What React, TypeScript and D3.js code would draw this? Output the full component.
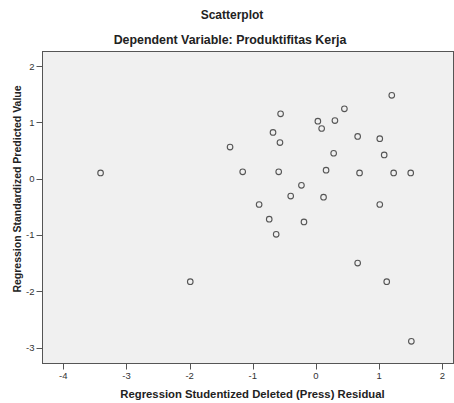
import React from "react";
import * as d3 from "d3";

const xValues = [-3.41, -1.36, -1.16, 1.2, -0.56, 0.45, 0.03, 0.3, 0.09, -0.68, -0.57, 0.66, 1.01, 0.28, 1.08, -0.59, 0.16, 0.69, 1.23, 1.5, -0.23, -0.4, 0.12, -0.9, 1.01, -0.74, -0.19, -0.63, 0.66, 1.12, 1.51, -1.99];
const yValues = [0.1, 0.56, 0.12, 1.48, 1.15, 1.24, 1.02, 1.03, 0.89, 0.82, 0.64, 0.75, 0.71, 0.45, 0.42, 0.12, 0.15, 0.1, 0.1, 0.1, -0.12, -0.31, -0.33, -0.46, -0.46, -0.72, -0.77, -0.99, -1.5, -1.83, -2.89, -1.83];
const xTicks = [-4, -3, -2, -1, 0, 1, 2];
const yTicks = [2, 1, 0, -1, -2, -3];

const title = "Scatterplot";
const subtitle = "Dependent Variable: Produktifitas Kerja";
const xLabel = "Regression Studentized Deleted (Press) Residual";
const yLabel = "Regression Standardized Predicted Value";

export default function App() {
  const W = 454, H = 403;
  const left = 42.5, right = 453.5, top = 51.5, bottom = 363.5;
  const x = d3.scaleLinear().domain([-4, 2]).range([63.3, 442.3]);
  const y = d3.scaleLinear().domain([2, -3]).range([66, 347.5]);
  const font = "Arial, 'Liberation Sans', sans-serif";
  return (
    <svg width={W} height={H} style={{ position: "absolute", left: 0, top: 0 }} fontFamily={font}>
      <rect x={0} y={0} width={W} height={H} fill="#ffffff" />
      <text x={232} y={19} textAnchor="middle" fontSize={12} fontWeight="bold" fill="#222">{title}</text>
      <text x={230} y={44} textAnchor="middle" fontSize={12.4} fontWeight="bold" fill="#222">{subtitle}</text>
      <rect x={left} y={top} width={right - left} height={bottom - top} fill="#f0f0f0" stroke="#555" strokeWidth={1} />
      {yTicks.map((t) => (
        <g key={"y" + t}>
          <line x1={left - 6} x2={left} y1={Math.round(y(t)) + 0.5} y2={Math.round(y(t)) + 0.5} stroke="#555" />
          <text x={left - 8} y={y(t) + 3.5} textAnchor="end" fontSize={9.5} fill="#333">{t}</text>
        </g>
      ))}
      {xTicks.map((t) => (
        <g key={"x" + t}>
          <line x1={Math.round(x(t)) + 0.5} x2={Math.round(x(t)) + 0.5} y1={bottom} y2={bottom + 6} stroke="#555" />
          <text x={x(t)} y={bottom + 15} textAnchor="middle" fontSize={9.5} fill="#333">{t}</text>
        </g>
      ))}
      {xValues.map((v, i) => (
        <circle key={i} cx={x(v)} cy={y(yValues[i])} r={2.8} fill="none" stroke="#555" strokeWidth={1.1} />
      ))}
      <text x={252.5} y={398} textAnchor="middle" fontSize={11.3} fontWeight="bold" fill="#222">{xLabel}</text>
      <text transform={`translate(21,189) rotate(-90)`} textAnchor="middle" fontSize={10.5} fontWeight="bold" fill="#222">{yLabel}</text>
    </svg>
  );
}
